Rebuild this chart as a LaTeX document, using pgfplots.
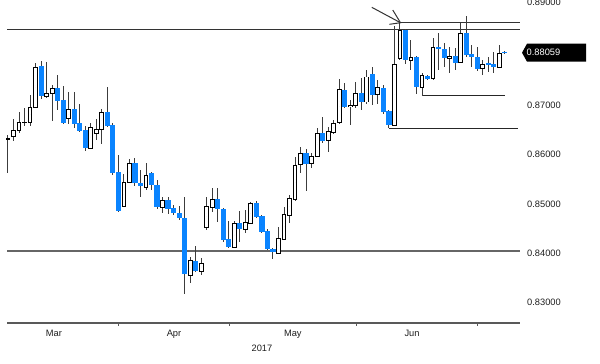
\documentclass[border=0pt]{standalone}
\usepackage{fontspec}
\setmainfont{Liberation Sans}
\usepackage{pgfplots}
\pgfplotsset{compat=1.18}
\usepackage{pgfplotstable}
\definecolor{cblue}{RGB}{10,132,255}
\definecolor{wick}{RGB}{60,60,60}
\definecolor{txt}{RGB}{30,30,30}

\pgfplotstableread{
i o h l c
0 0.86312 0.86393 0.85623 0.86332
1 0.86372 0.86717 0.86271 0.86494
2 0.86494 0.86858 0.86433 0.86636
3 0.86636 0.86939 0.86575 0.86656
4 0.86656 0.87202 0.86575 0.86960
5 0.86960 0.87850 0.86939 0.87769
6 0.87789 0.87891 0.87121 0.87182
7 0.87182 0.87870 0.87142 0.87243
8 0.87243 0.87405 0.86676 0.87344
9 0.87344 0.87607 0.86899 0.87081
10 0.87101 0.87385 0.86615 0.86636
11 0.86717 0.87263 0.86615 0.86919
12 0.86919 0.87263 0.86534 0.86615
13 0.86636 0.87020 0.86453 0.86474
14 0.86494 0.86575 0.86069 0.86130
15 0.86130 0.86636 0.86109 0.86555
16 0.86433 0.86717 0.86291 0.86514
17 0.86514 0.86919 0.86211 0.86858
18 0.86858 0.87364 0.86555 0.86575
19 0.86595 0.86636 0.85583 0.85623
20 0.85644 0.85988 0.84834 0.84854
21 0.84955 0.85603 0.84935 0.85441
22 0.85441 0.85907 0.85421 0.85826
23 0.85826 0.85927 0.85360 0.85421
24 0.85421 0.85684 0.85138 0.85360
25 0.85340 0.85826 0.85279 0.85583
26 0.85623 0.85644 0.85279 0.85381
27 0.85381 0.85482 0.84895 0.84935
28 0.84935 0.85138 0.84814 0.85077
29 0.85077 0.85138 0.84793 0.84895
30 0.84915 0.84976 0.84773 0.84814
31 0.84814 0.84955 0.84672 0.84712
32 0.84712 0.85138 0.83174 0.83579
33 0.83559 0.83923 0.83397 0.83862
34 0.83842 0.84146 0.83619 0.83640
35 0.83640 0.83903 0.83559 0.83802
36 0.84530 0.85138 0.84470 0.84955
37 0.84935 0.85320 0.84834 0.85097
38 0.85097 0.85320 0.84632 0.84895
39 0.84895 0.84915 0.84227 0.84267
40 0.84287 0.84652 0.84105 0.84125
41 0.84125 0.84652 0.84105 0.84611
42 0.84611 0.84854 0.84227 0.84490
43 0.84490 0.84874 0.84409 0.84632
44 0.84611 0.85036 0.84591 0.85016
45 0.85016 0.85057 0.84712 0.84733
46 0.84753 0.84773 0.84409 0.84429
47 0.84449 0.84490 0.84065 0.84085
48 0.84085 0.84105 0.83883 0.84024
49 0.84004 0.84530 0.83984 0.84308
50 0.84287 0.84935 0.84267 0.84793
51 0.84773 0.85178 0.84611 0.85117
52 0.85097 0.85947 0.85057 0.85785
53 0.85806 0.86150 0.85623 0.86028
54 0.86028 0.86109 0.85259 0.85806
55 0.85826 0.86028 0.85725 0.85968
56 0.85968 0.86534 0.85947 0.86433
57 0.86433 0.86757 0.86231 0.86271
58 0.86291 0.86555 0.86049 0.86474
59 0.86453 0.86696 0.86413 0.86636
60 0.86636 0.87526 0.86615 0.87324
61 0.87304 0.87445 0.86939 0.86960
62 0.86960 0.87101 0.86595 0.87000
63 0.87000 0.87466 0.86939 0.87243
64 0.87243 0.87547 0.86899 0.87061
65 0.87061 0.87709 0.87020 0.87567
66 0.87628 0.87769 0.87000 0.87202
67 0.87223 0.87506 0.87020 0.87364
68 0.87344 0.87405 0.86818 0.86858
69 0.86879 0.86899 0.86534 0.86595
70 0.86595 0.88599 0.86575 0.87830
71 0.87951 0.88666 0.87911 0.88518
72 0.88518 0.88538 0.87830 0.87911
73 0.87911 0.88316 0.87709 0.87972
74 0.87972 0.87992 0.87223 0.87364
75 0.87364 0.87648 0.87192 0.87607
76 0.87587 0.87607 0.87506 0.87526
77 0.87547 0.88356 0.87506 0.88174
78 0.88174 0.88457 0.87709 0.88134
79 0.88134 0.88255 0.87769 0.87951
80 0.87951 0.88174 0.87648 0.87992
81 0.87992 0.88154 0.87709 0.87850
82 0.87870 0.88660 0.87850 0.88457
83 0.88457 0.88802 0.87972 0.88012
84 0.88032 0.88215 0.87769 0.87972
85 0.87972 0.88174 0.87688 0.87729
86 0.87749 0.87911 0.87607 0.87830
87 0.87850 0.87972 0.87668 0.87810
88 0.87830 0.88073 0.87648 0.87769
89 0.87769 0.88215 0.87749 0.88053
90 0.88073 0.88093 0.88032 0.88059
}\candles

\begin{document}
\begin{tikzpicture}[font=\fontsize{9.3}{11}\selectfont]
\path[use as bounding box] (0,0) rectangle (600pt,364pt);
\begin{axis}[
  at={(7pt,41pt)}, anchor=south west,
  scale only axis, width=513pt, height=323pt,
  xmin=-0.18, xmax=92.75, ymin=0.82587, ymax=0.89126,
  axis x line*=bottom, axis y line*=right,
  y axis line style={draw=none},
  x axis line style={draw=black!65, line width=1.3pt},
  xtick={20.1,40.2,63.2,85.1}, xticklabels={},
  tick align=outside, major tick length=3pt,
  xtick style={draw=black!65, line width=1pt},
  ytick=\empty,
  clip=false,
  every axis plot/.append style={mark options={draw=none,fill=none}, mark size=0pt},
]
% support / resistance lines
\addplot[line width=1pt, color=black!80] coordinates {(-0.18,0.88538) (92.75,0.88538)};
\addplot[line width=1pt, color=black!80] coordinates {(71.1,0.88666) (92.75,0.88666)};
\addplot[line width=1.8pt, color=black!60] coordinates {(-0.18,0.84045) (92.75,0.84045)};
\addplot[line width=1pt, color=black!85] coordinates {(75.0,0.87192) (90.0,0.87192)};
\addplot[line width=1pt, color=black!85] coordinates {(69.0,0.86534) (92.4,0.86534)};
% wicks
\addplot[only marks, error bars/.cd, y dir=both, y explicit, error mark=none,
  error bar style={line width=1pt, color=wick}]
  table[x=i, y expr={(\thisrow{h}+\thisrow{l})/2}, y error expr={(\thisrow{h}-\thisrow{l})/2}] {\candles};
% down bodies
\addplot[only marks, restrict expr to domain={\thisrow{o}-\thisrow{c}}{0:1},
  error bars/.cd, y dir=both, y explicit, error mark=none,
  error bar style={line width=5.2pt, color=cblue}]
  table[x=i, y expr={(\thisrow{o}+\thisrow{c})/2}, y error expr={(\thisrow{o}-\thisrow{c})/2}] {\candles};
% up bodies: outline
\addplot[only marks, restrict expr to domain={\thisrow{c}-\thisrow{o}}{0:1},
  error bars/.cd, y dir=both, y explicit, error mark=none,
  error bar style={line width=4.8pt, color=black}]
  table[x=i, y expr={(\thisrow{o}+\thisrow{c})/2}, y error expr={(\thisrow{c}-\thisrow{o})/2+0.0001}] {\candles};
% up bodies: fill
\addplot[only marks, restrict expr to domain={\thisrow{c}-\thisrow{o}}{0:1},
  error bars/.cd, y dir=both, y explicit, error mark=none,
  error bar style={line width=2.8pt, color=white}]
  table[x=i, y expr={(\thisrow{o}+\thisrow{c})/2}, y error expr={max((\thisrow{c}-\thisrow{o})/2-0.0001,0)}] {\candles};
% arrow
\draw[black!80, line width=1pt] (axis cs:65.9,0.88978) -- (axis cs:71.1,0.88666);
\draw[black!80, line width=1pt] (axis cs:69.7,0.88923) -- (axis cs:71.1,0.88666) -- (axis cs:69.1,0.88634);
\coordinate (price) at (axis cs:92.75,0.88059);
% y labels (right side)
\node[anchor=west, inner sep=0pt, text=txt] at ([xshift=7pt]axis cs:92.75,0.83) {0.83000};
\node[anchor=west, inner sep=0pt, text=txt] at ([xshift=7pt]axis cs:92.75,0.84) {0.84000};
\node[anchor=west, inner sep=0pt, text=txt] at ([xshift=7pt]axis cs:92.75,0.85) {0.85000};
\node[anchor=west, inner sep=0pt, text=txt] at ([xshift=7pt]axis cs:92.75,0.86) {0.86000};
\node[anchor=west, inner sep=0pt, text=txt] at ([xshift=7pt]axis cs:92.75,0.87) {0.87000};
\node[anchor=west, inner sep=0pt, text=txt] at ([xshift=7pt,yshift=4pt]axis cs:92.75,0.89) {0.89000};
% month labels
\node[anchor=base, text=txt] at ([yshift=-14pt]axis cs:8.33,0.82587) {Mar};
\node[anchor=base, text=txt] at ([yshift=-14pt]axis cs:30.07,0.82587) {Apr};
\node[anchor=base, text=txt] at ([yshift=-14pt]axis cs:51.6,0.82587) {May};
\node[anchor=base, text=txt] at ([yshift=-14pt]axis cs:73.2,0.82587) {Jun};
\node[anchor=base, text=txt] at ([yshift=-28.6pt]axis cs:46.0,0.82587) {2017};
\end{axis}
% price tag
\fill[black] ([xshift=2pt]price) -- ([xshift=7pt,yshift=9pt]price) -- ([xshift=66pt,yshift=9pt]price) -- ([xshift=66pt,yshift=-9pt]price) -- ([xshift=7pt,yshift=-9pt]price) -- cycle;
\node[anchor=west, text=white, inner sep=0pt] at ([xshift=6.5pt]price) {0.88059};
\end{tikzpicture}
\end{document}
